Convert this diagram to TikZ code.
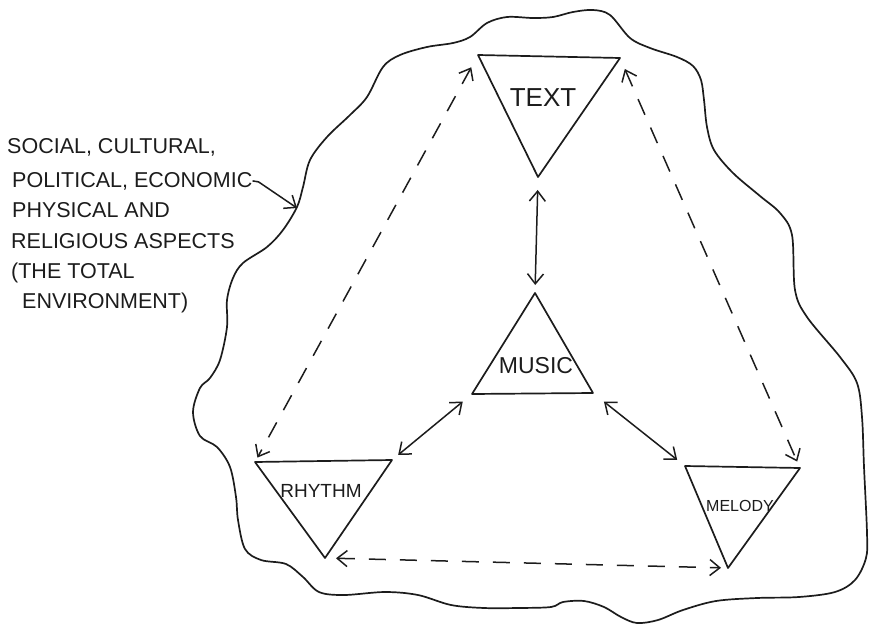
\documentclass[tikz,border=0pt]{standalone}
\usepackage{fontspec}
\usepackage{tikz}
\usepackage{xcolor}
\setmainfont{Liberation Sans}
\usetikzlibrary{
    arrows.meta
}
\definecolor{InkDark}{HTML}{1C1C1C}

\begin{document}
\begin{tikzpicture}[
    x=1pt, y=-1pt,
    ink/.style={draw=InkDark, line width=1.7pt, line join=round},
    barbs/.style={{Straight Barb[length=10pt,width=16pt]}-{Straight Barb[length=10pt,width=16pt]}},
    solidlink/.style={ink, line width=1.5pt, barbs},
    dashlink/.style={solidlink, dash pattern=on 17pt off 14pt},
    aspect/.style={text=InkDark, inner sep=0pt, anchor=base west, font=\fontsize{21.5}{21.5}\selectfont},
    partname/.style={text=InkDark, inner sep=0pt}
]
    \useasboundingbox (0,0) rectangle (872,626);

    \draw[ink] plot[smooth cycle, tension=0.55] coordinates {
        (327,137) (350,115) (367,97) (383,67) (400,55) (427,47) (453,43) (470,37)
        (487,23) (507,17) (533,18) (553,17) (573,12) (593,10) (610,15) (630,38)
        (650,48) (677,57) (693,66) (701,80) (704,100) (707,127) (714,150) (733,173)
        (760,196) (780,213) (792,235) (795,290) (807,317) (840,357) (857,383) (862,417)
        (864,467) (867,533) (866,558) (855,580) (835,592) (799,597) (757,598) (716,601)
        (683,610) (658,620) (637,623) (621,617) (604,607) (584,601) (563,602) (551,607)
        (518,608) (484,608) (451,605) (418,595) (385,592) (344,595) (319,592) (303,577)
        (286,564) (261,560) (245,549) (238,520) (236,497) (230,467) (217,447) (200,436)
        (193,412) (200,388) (210,378) (220,360) (227,327) (227,300) (233,278) (243,263)
        (267,247) (283,230) (297,207) (303,187) (310,160)
    };

    \coordinate (textL) at (478,55);
    \coordinate (textR) at (620,58);
    \coordinate (textB) at (538,177);
    \coordinate (musA) at (535,293);
    \coordinate (musL) at (472,394);
    \coordinate (musR) at (593,393);
    \coordinate (rhyL) at (255,462);
    \coordinate (rhyR) at (392,460);
    \coordinate (rhyB) at (325,558);
    \coordinate (melL) at (685,466);
    \coordinate (melR) at (800,468);
    \coordinate (melB) at (728,568);

    \draw[ink] (textL) -- (textR) -- (textB) -- cycle;
    \draw[ink] (musA) -- (musR) -- (musL) -- cycle;
    \draw[ink] (rhyL) -- (rhyR) -- (rhyB) -- cycle;
    \draw[ink] (melL) -- (melR) -- (melB) -- cycle;

    \node[partname, font=\fontsize{26}{26}\selectfont] (text) at (543,98) {TEXT};
    \node[partname, font=\fontsize{23}{23}\selectfont] (music) at (536,366) {MUSIC};
    \node[partname, font=\fontsize{19}{19}\selectfont] (rhythm) at (321,491) {RHYTHM};
    \node[partname, font=\fontsize{16}{16}\selectfont] (melody) at (740,506) {MELODY};

    \draw[solidlink, shorten <=13pt, shorten >=8pt] (textB) -- (musA);
    \draw[solidlink, shorten <=12pt, shorten >=8pt] (musL) -- (rhyR);
    \draw[solidlink, shorten <=14pt, shorten >=10pt] (musR) -- (melL);
    \draw[dashlink, shorten <=14pt, shorten >=5pt] (textL) -- (rhyL);
    \draw[dashlink, shorten <=12pt, shorten >=7pt] (textR) -- (melR);
    \draw[dashlink, shorten <=11pt, shorten >=7pt] (rhyB) -- (melB);

    \node[aspect] (line1) at (7,153) {SOCIAL, CULTURAL,};
    \node[aspect] (line2) at (12,187) {POLITICAL, ECONOMIC};
    \node[aspect] (line3) at (12,217) {PHYSICAL AND};
    \node[aspect] (line4) at (11,248) {RELIGIOUS ASPECTS};
    \node[aspect] (line5) at (11,278) {(THE TOTAL};
    \node[aspect] (line6) at (22,308) {ENVIRONMENT)};

    \coordinate (edgeHit) at (297,208);
    \draw[ink, line width=1.5pt, -{Straight Barb[length=10pt,width=16pt]}]
        (line2.east) -- ++(6,1) -- (edgeHit);
\end{tikzpicture}
\end{document}
